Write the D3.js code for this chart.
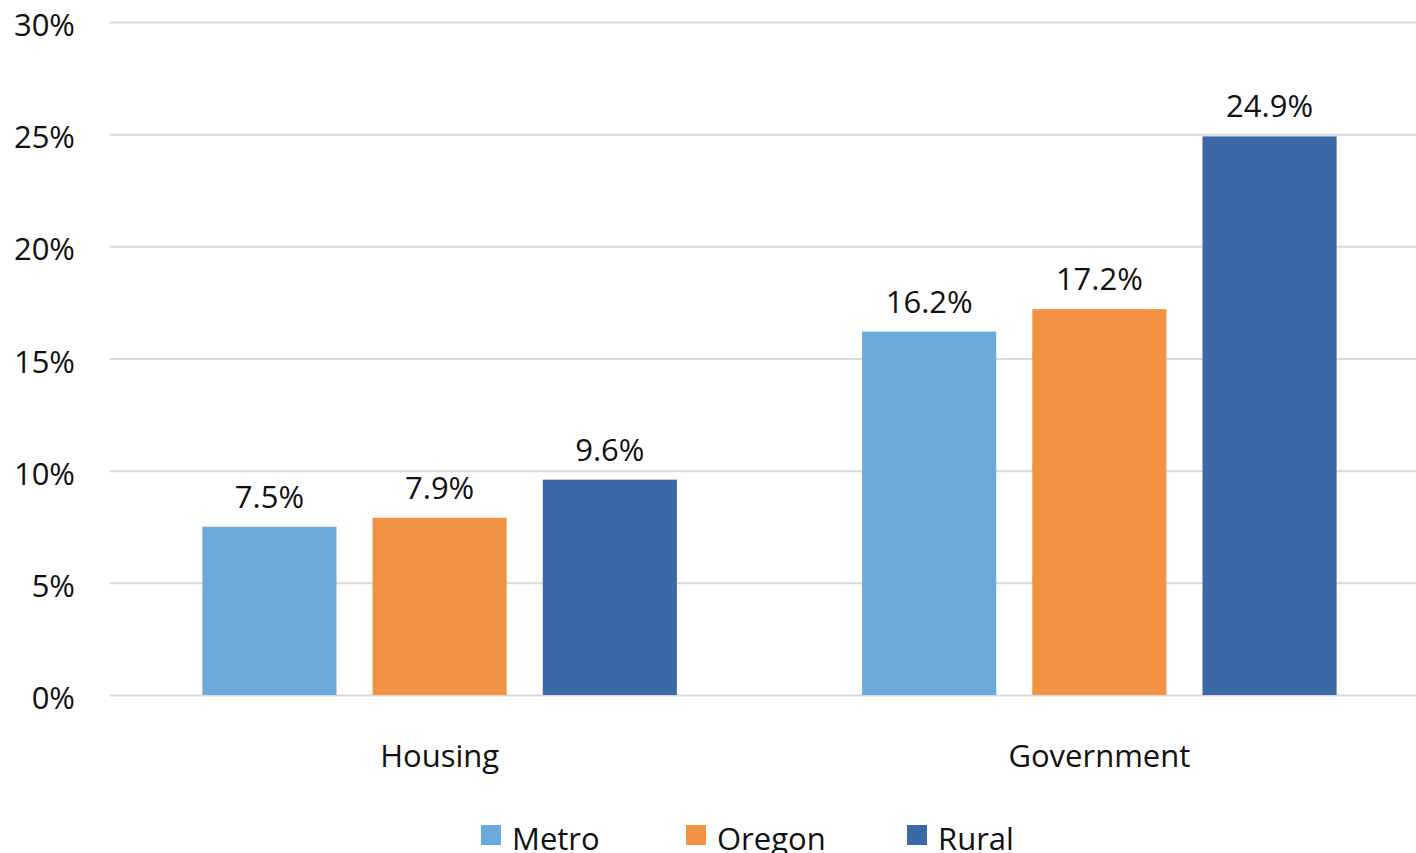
<html>

<head>
  <script src="https://d3js.org/d3.v7.min.js"></script>
  <style>
    body {
      margin: 0;
      background: #fff;
      font-family: 'Open Sans', Arial, sans-serif;
    }

    .gridlines line {
      stroke: #d9d9d9;
      stroke-width: 2;
    }
  </style>
</head>

<body>
  <svg id="chart" width="1416" height="853"></svg>

  <script>
    // ----
    // DATA
    // ----
    const categories = ["Housing", "Government"];
    const seriesNames = ["Metro", "Oregon", "Rural"];
    const metroValues = [7.5, 16.2];
    const oregonValues = [7.9, 17.2];
    const ruralValues = [9.6, 24.9];
    const yTicks = [0, 5, 10, 15, 20, 25, 30];
    const colors = ["#6daadc", "#f29343", "#3b68a6"];

    const valuesBySeries = [metroValues, oregonValues, ruralValues];

    const svg = d3.select("svg#chart");

    // ------
    // SCALES
    // ------
    const yScale = d3.scaleLinear()
      .domain([0, 30])
      .range([695, 22]);

    const groupScale = d3.scaleBand()
      .domain(categories)
      .range([110, 1429])
      .paddingInner(0.2807)
      .paddingOuter(0.14);

    const barScale = d3.scaleBand()
      .domain(seriesNames)
      .range([0, groupScale.bandwidth()])
      .paddingInner(0.2118)
      .paddingOuter(0);

    // gridlines
    const gridAxis = d3.axisLeft(yScale)
      .tickValues(yTicks)
      .tickSize(-(1429 - 110))
      .tickFormat("");
    svg.append("g")
      .attr("class", "gridlines")
      .attr("transform", "translate(110,0)")
      .call(gridAxis)
      .call(g => g.select(".domain").remove());

    // y tick labels
    svg.append("g")
      .selectAll("text")
      .data(yTicks)
      .join("text")
      .attr("x", 75)
      .attr("y", d => yScale(d) + 14)
      .attr("text-anchor", "end")
      .attr("font-size", "31px")
      .attr("fill", "#111")
      .text(d => d + "%");

    // category labels
    svg.append("g")
      .selectAll("text")
      .data(categories)
      .join("text")
      .attr("x", d => groupScale(d) + groupScale.bandwidth() / 2)
      .attr("y", 767)
      .attr("text-anchor", "middle")
      .attr("font-size", "31px")
      .attr("fill", "#111")
      .text(d => d);

    // ----
    // BARS
    // ----
    const barData = [];
    categories.forEach((c, i) => {
      seriesNames.forEach((s, j) => {
        barData.push({ category: c, series: s, value: valuesBySeries[j][i], color: colors[j] });
      });
    });

    const bars = svg.append("g");
    bars.selectAll("rect.bar")
      .data(barData)
      .join("rect").attr("class", "bar")
      .attr("x", d => groupScale(d.category) + barScale(d.series))
      .attr("width", barScale.bandwidth())
      .attr("y", d => yScale(d.value))
      .attr("height", d => yScale(0) - yScale(d.value))
      .attr("fill", d => d.color);

    bars.selectAll("text.label")
      .data(barData)
      .join("text").attr("class", "label")
      .attr("x", d => groupScale(d.category) + barScale(d.series) + barScale.bandwidth() / 2)
      .attr("y", d => yScale(d.value) - 19)
      .attr("text-anchor", "middle")
      .attr("font-size", "31px")
      .attr("fill", "#111")
      .text(d => d.value.toFixed(1) + "%");

    // ------
    // LEGEND
    // ------
    const legendX = [481, 686, 907];
    const legend = svg.append("g")
      .selectAll("g")
      .data(seriesNames)
      .join("g")
      .attr("transform", (d, i) => `translate(${legendX[i]},825)`);
    legend.append("rect")
      .attr("width", 20)
      .attr("height", 20)
      .attr("fill", (d, i) => colors[i]);
    legend.append("text")
      .attr("x", 31)
      .attr("y", 25)
      .attr("font-size", "31px")
      .attr("fill", "#111")
      .text(d => d);
  </script>
</body>

</html>
